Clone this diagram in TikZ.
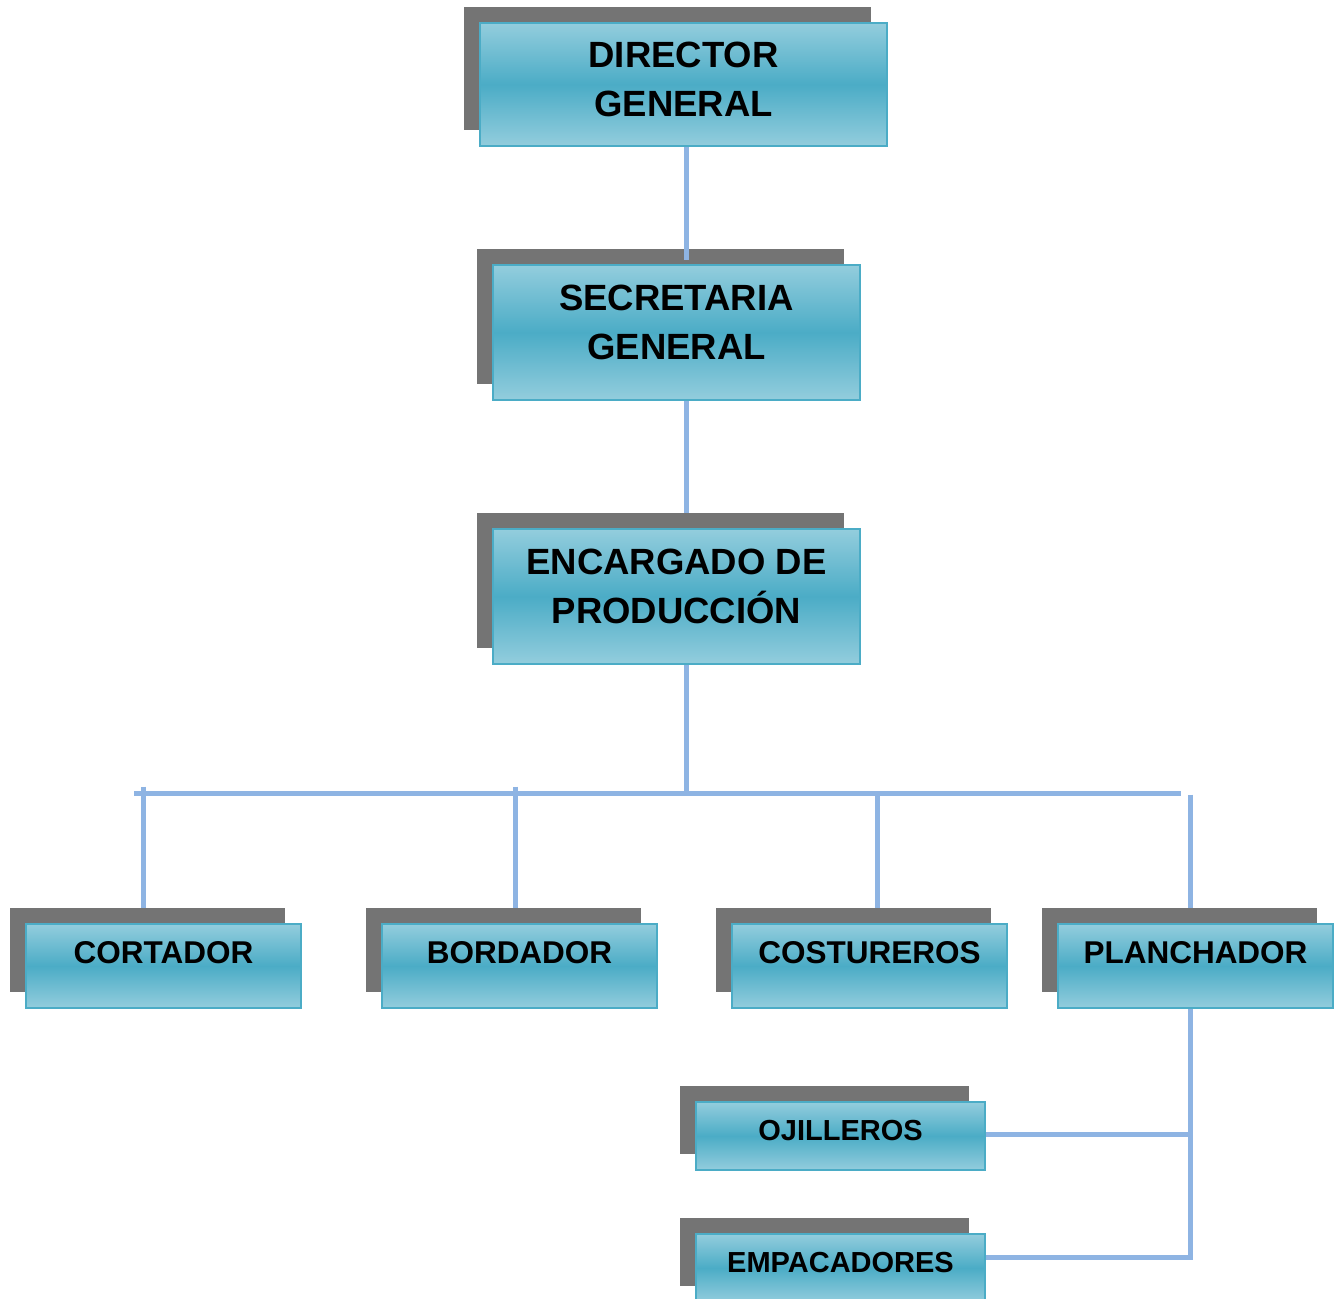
\documentclass[tikz,border=0pt]{standalone}
\usepackage{fontspec}
\setmainfont{Liberation Sans}
\definecolor{boxlight}{HTML}{93CDDD}
\definecolor{boxmid}{HTML}{4BACC6}
\definecolor{boxedge}{HTML}{4BACC6}
\definecolor{linkblue}{HTML}{8EB4E3}
\definecolor{shadegray}{HTML}{747474}
\tikzset{
  orgbox/.style={draw=boxedge, line width=2pt, inner sep=0pt,
    top color=boxlight, bottom color=boxlight, middle color=boxmid},
  dropshade/.style={fill=shadegray, inner sep=0pt},
  bigtxt/.style={font=\bfseries\fontsize{36.5}{49}\selectfont, align=center, inner sep=0pt},
  midtxt/.style={font=\bfseries\fontsize{31.5}{38}\selectfont, inner sep=0pt},
  smalltxt/.style={font=\bfseries\fontsize{29}{35}\selectfont, inner sep=0pt},
  conn/.style={draw=linkblue, line width=5pt}
}
\begin{document}
\begin{tikzpicture}[x=1pt,y=-1pt]
\useasboundingbox (0,0) rectangle (1337,1298);
\clip (0,0) rectangle (1337,1298);

% guide positions for the connectors
\coordinate (spine) at (686,0);
\coordinate (bus) at (0,793.5);
\coordinate (xcor) at (143,0);
\coordinate (xbor) at (515,0);
\coordinate (xcos) at (877,0);
\coordinate (xpla) at (1190.5,0);
\coordinate (busL) at (134,793.5);
\coordinate (busR) at (1181,793.5);

% drop shadows (offset up and to the left)
\node[dropshade, minimum width=407, minimum height=123] (dirS) at (667.5,68.5) {};
\node[dropshade, minimum width=367, minimum height=135] (secS) at (660.5,316.5) {};
\node[dropshade, minimum width=367, minimum height=135] (encS) at (660.5,580.5) {};
\node[dropshade, minimum width=275, minimum height=84] (corS) at (147.5,950) {};
\node[dropshade, minimum width=275, minimum height=84] (borS) at (503.5,950) {};
\node[dropshade, minimum width=275, minimum height=84] (cosS) at (853.5,950) {};
\node[dropshade, minimum width=275, minimum height=84] (plaS) at (1179.5,950) {};
\node[dropshade, minimum width=289, minimum height=68] (ojiS) at (824.5,1120) {};
\node[dropshade, minimum width=289, minimum height=68] (empS) at (824.5,1252) {};

% boxes
\node[orgbox, minimum width=407, minimum height=123] (dir) at (683.5,84.5) {};
\node[orgbox, minimum width=367, minimum height=135] (sec) at (676.5,332.5) {};
\node[orgbox, minimum width=367, minimum height=135] (enc) at (676.5,596.5) {};
\node[orgbox, minimum width=275, minimum height=84] (cor) at (163.5,966) {};
\node[orgbox, minimum width=275, minimum height=84] (bor) at (519.5,966) {};
\node[orgbox, minimum width=275, minimum height=84] (cos) at (869.5,966) {};
\node[orgbox, minimum width=275, minimum height=84] (pla) at (1195.5,966) {};
\node[orgbox, minimum width=289, minimum height=68] (oji) at (840.5,1136) {};
\node[orgbox, minimum width=289, minimum height=68] (emp) at (840.5,1268) {};

% connectors
\draw[conn] (dir.south -| spine) -- ([yshift=4pt]sec.north -| spine);
\draw[conn] (sec.south -| spine) -- (encS.north -| spine);
\draw[conn] (enc.south -| spine) -- (bus -| spine);
\draw[conn] (busL) -- (busR);
\draw[conn] ([yshift=7pt]xcor |- bus) -- (corS.north -| xcor);
\draw[conn] ([yshift=7pt]xbor |- bus) -- (borS.north -| xbor);
\draw[conn] (xcos |- bus) -- (cosS.north -| xcos);
\draw[conn] ([yshift=-1pt]xpla |- bus) -- (plaS.north -| xpla);
\draw[conn] (pla.south -| xpla) -- ([yshift=8.5pt]xpla |- emp.east);
\draw[conn] ([yshift=2pt]oji.east) -- ([yshift=2pt]xpla |- oji.east);
\draw[conn] ([yshift=11pt]emp.east) -- ([yshift=11pt]xpla |- emp.east);

% labels
\node[bigtxt] (dirT) at (683.5,79.5) {DIRECTOR\\GENERAL};
\node[bigtxt] (secT) at (676.5,322) {SECRETARIA\\GENERAL};
\node[bigtxt] (encT) at (676.5,586) {ENCARGADO DE\\PRODUCCIÓN};
\node[midtxt] (corT) at (163.5,953) {CORTADOR};
\node[midtxt] (borT) at (519.5,953) {BORDADOR};
\node[midtxt] (cosT) at (869.5,953) {COSTUREROS};
\node[midtxt] (plaT) at (1195.5,953) {PLANCHADOR};
\node[smalltxt] (ojiT) at (840.5,1130) {OJILLEROS};
\node[smalltxt] (empT) at (840.5,1262) {EMPACADORES};
\end{tikzpicture}
\end{document}
